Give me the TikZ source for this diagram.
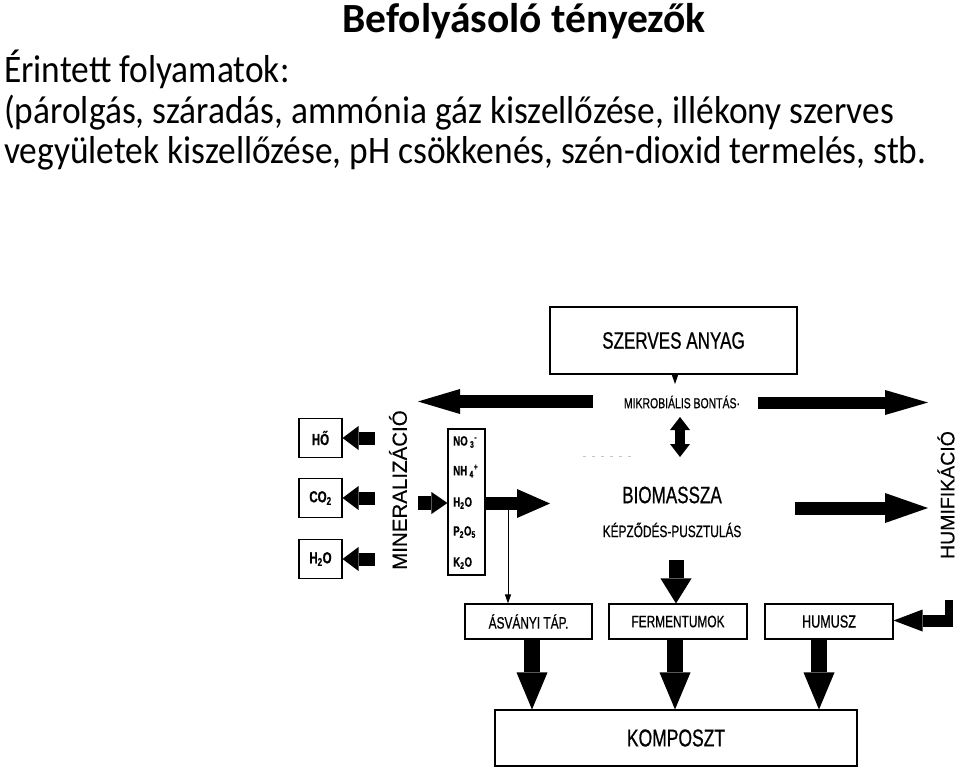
\documentclass[tikz,border=0pt]{standalone}
\usepackage{fontspec}
\setmainfont{Carlito}
\newfontfamily\cnd[FakeStretch=0.72,FakeBold=0.7]{Liberation Sans}
\newfontfamily\lib[FakeBold=0.3]{Liberation Sans}
\usetikzlibrary{arrows.meta}
\begin{document}
\begin{tikzpicture}[x=1pt,y=-1pt,
  bx/.style={draw, line width=1.1pt, inner sep=0pt, align=center},
  fat/.style n args={3}{line width=#1, -{Triangle[length=#2, width=#3, line width=0pt]}},
  dfat/.style n args={3}{line width=#1, {Triangle[length=#2, width=#3, line width=0pt]}-{Triangle[length=#2, width=#3, line width=0pt]}},
  lbl/.style={inner sep=0pt, font=\cnd},
  hdr/.style={anchor=base west, inner sep=0pt, font=\fontsize{35.4}{40}\selectfont}
]
\useasboundingbox (0,0) rectangle (960,769);
% header text
\node[anchor=base, inner sep=0pt, font=\bfseries\fontsize{41.5}{48}\selectfont] (title) at (524,32.5) {Befolyásoló tényezők};
\node[hdr] (l1) at (4,82) {\scalebox{1}[1.1]{Érintett folyamatok:}};
\node[hdr] (l2) at (4,123) {\scalebox{1}[1.1]{(párolgás, száradás, ammónia gáz kiszellőzése, illékony szerves}};
\node[hdr] (l3) at (4,163) {\scalebox{1}[1.1]{vegyületek kiszellőzése, pH csökkenés, szén-dioxid termelés, stb.}};

% boxes
\node[bx, minimum width=247pt, minimum height=67pt, font=\cnd\fontsize{23.7}{28}\selectfont] (SZ) at (673.5,340.5) {SZERVES ANYAG};
\node[lbl, font=\cnd\fontsize{14.5}{17}\selectfont] (MB) at (682,402) {MIKROBIÁLIS BONTÁS·};
\node[lbl, font=\cnd\fontsize{23.7}{28}\selectfont] (BIO) at (672,495) {BIOMASSZA};
\node[lbl, font=\cnd\fontsize{16.5}{20}\selectfont] (KP) at (672,530) {KÉPZŐDÉS-PUSZTULÁS};

\node[bx, minimum width=43pt, minimum height=39pt, font=\cnd\bfseries\fontsize{16}{19}\selectfont] (HO) at (320.5,438) {HŐ};
\node[bx, minimum width=43pt, minimum height=39pt, font=\cnd\bfseries\fontsize{16}{19}\selectfont] (CO) at (320.5,498) {CO\textsubscript{2}};
\node[bx, minimum width=43pt, minimum height=39pt, font=\cnd\bfseries\fontsize{16}{19}\selectfont] (HW) at (320.5,559) {H\textsubscript{2}O};

\node[bx, minimum width=37pt, minimum height=146pt] (ION) at (466.5,502) {};
\node[lbl, anchor=west, font=\cnd\bfseries\fontsize{13.5}{15}\selectfont] (i1) at (453,442) {NO\,\textsubscript{3}\textsuperscript{-}};
\node[lbl, anchor=west, font=\cnd\bfseries\fontsize{13.5}{15}\selectfont] (i2) at (453,471) {NH\,\textsubscript{4}\textsuperscript{+}};
\node[lbl, anchor=west, font=\cnd\bfseries\fontsize{13.5}{15}\selectfont] (i3) at (453,503) {H\textsubscript{2}O};
\node[lbl, anchor=west, font=\cnd\bfseries\fontsize{13.5}{15}\selectfont] (i4) at (453,532) {P\textsubscript{2}O\textsubscript{5}};
\node[lbl, anchor=west, font=\cnd\bfseries\fontsize{13.5}{15}\selectfont] (i5) at (453,563) {K\textsubscript{2}O};

\node[lbl, rotate=90, font=\lib\fontsize{20.5}{24}\selectfont] (MIN) at (398,490) {MINERALIZÁCIÓ};
\node[lbl, rotate=90, font=\lib\fontsize{19.5}{24}\selectfont] (HUMI) at (946,495) {HUMIFIKÁCIÓ};

\node[bx, minimum width=127pt, minimum height=35pt, font=\cnd\fontsize{16.5}{20}\selectfont] (ASV) at (528.5,621.5) {ÁSVÁNYI TÁP.};
\node[bx, minimum width=138pt, minimum height=35pt, font=\cnd\fontsize{16.5}{20}\selectfont] (FER) at (678,621.5) {FERMENTUMOK};
\node[bx, minimum width=128pt, minimum height=35pt, font=\cnd\fontsize{17.5}{20}\selectfont] (HUM) at (829,621.5) {HUMUSZ};
\node[bx, minimum width=362pt, minimum height=56pt, font=\cnd\fontsize{24.3}{28}\selectfont] (KOM) at (676,738) {KOMPOSZT};

% free ends
\coordinate (bl0) at (593,401.5);
\coordinate (bl1) at (418,401.5);
\coordinate (br0) at (758,402.5);
\coordinate (br1) at (928,402.5);
\coordinate (bb0) at (795,508);
\coordinate (bb1) at (928,508);
\coordinate (ir1) at (550,503.5);
\coordinate (ii0) at (418,503);
\coordinate (d0) at (680,417);
\coordinate (d1) at (680,457);
\coordinate (bd0) at (676,560);
\coordinate (th0) at (508,503);
\coordinate (hv0) at (953,620.5);

% small triangle under SZERVES ANYAG
\fill (671.5,374) -- (678.5,374) -- (675,384) -- cycle;
% faint dashes
\draw[gray!45, line width=0.8pt, dash pattern=on 3pt off 6pt] (583,456) -- (637,456);

% thin arrow
\draw[line width=1pt, -{Triangle[length=9pt, width=6pt]}] (th0) -- (th0 |- ASV.north);

% big arrows
\draw[fat={13pt}{42pt}{25pt}] (bl0) -- (bl1);
\draw[fat={12pt}{43pt}{25pt}] (br0) -- (br1);
\draw[fat={13pt}{43pt}{30pt}] (bb0) -- (bb1);
\draw[fat={13pt}{33pt}{29pt}] (ION.east |- ir1) -- (ir1);
\draw[fat={14pt}{16pt}{22pt}] (ii0) -- (ION.west |- ii0);
\draw[fat={13pt}{16pt}{24pt}] (375,438) -- (HO.east);
\draw[fat={13pt}{16pt}{24pt}] (375,498) -- (CO.east);
\draw[fat={13pt}{16pt}{24pt}] (375,559) -- (HW.east);
\draw[dfat={10pt}{13pt}{20pt}] (d0) -- (d1);
\draw[fat={15pt}{25pt}{31pt}] (bd0) -- (bd0 |- FER.north);
\draw[fat={16pt}{37pt}{31pt}] ([xshift=3.5pt]ASV.south) -- ([xshift=3.5pt]ASV.south |- KOM.north);
\draw[fat={16pt}{37pt}{31pt}] ([xshift=-3pt]FER.south) -- ([xshift=-3pt]FER.south |- KOM.north);
\draw[fat={16pt}{37pt}{31pt}] ([xshift=-10pt]HUM.south) -- ([xshift=-10pt]HUM.south |- KOM.north);
% humusz incoming L-arrow
\fill (945,600) rectangle (953,627);
\draw[fat={12pt}{29pt}{22pt}] (hv0) -- (HUM.east |- hv0);
\end{tikzpicture}
\end{document}
